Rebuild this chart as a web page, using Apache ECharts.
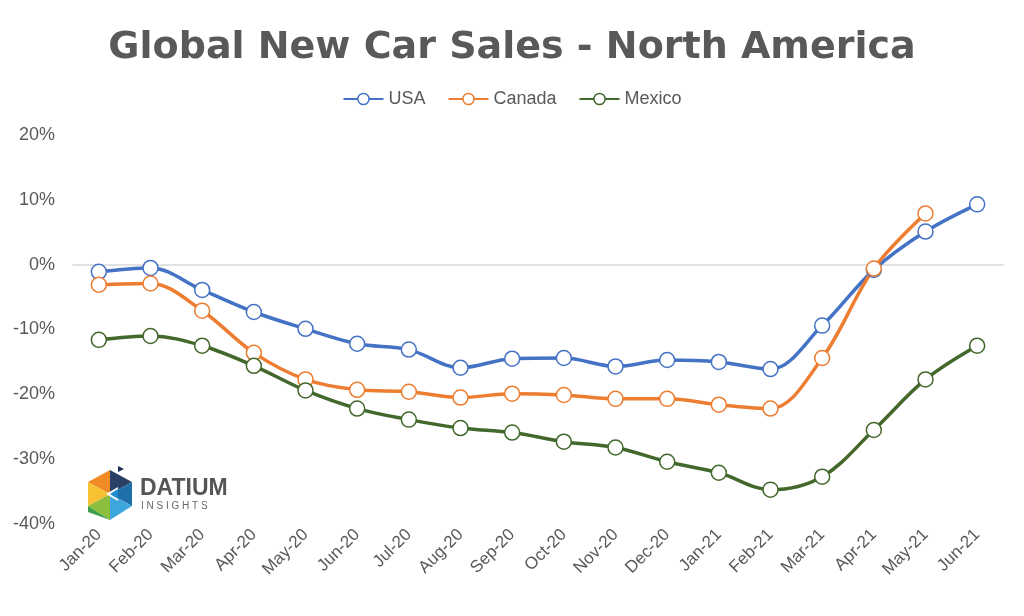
<!DOCTYPE html>
<html>
<head>
<meta charset="utf-8">
<script src="https://cdn.jsdelivr.net/npm/echarts@6/dist/echarts.min.js"></script>
<style>html,body{margin:0;padding:0;background:#fff}#c{width:1024px;height:616px}</style>
</head>
<body>
<div id="c"></div>
<script>
const categories = ['Jan-20','Feb-20','Mar-20','Apr-20','May-20','Jun-20','Jul-20','Aug-20','Sep-20','Oct-20','Nov-20','Dec-20','Jan-21','Feb-21','Mar-21','Apr-21','May-21','Jun-21'];
const usa =    [-1.1, -0.5, -3.9, -7.3, -9.9, -12.2, -13.1, -15.9, -14.5, -14.4, -15.7, -14.7, -15.0, -16.1, -9.4, -0.8, 5.1, 9.3];
const canada = [-3.1, -2.9, -7.1, -13.6, -17.7, -19.3, -19.6, -20.5, -19.9, -20.1, -20.7, -20.7, -21.6, -22.2, -14.4, -0.6, 7.9, null];
const mexico = [-11.6, -11.0, -12.5, -15.6, -19.4, -22.2, -23.9, -25.2, -25.9, -27.3, -28.2, -30.4, -32.1, -34.7, -32.7, -25.5, -17.7, -12.5];
const yTicks = {min: -40, max: 20, interval: 10};

const font = '"Liberation Sans", "DejaVu Sans", sans-serif';
const textColor = '#595959';
function mk(name, data, color) {
  return {
    name, type: 'line', data, smooth: 0.35, connectNulls: false,
    symbol: 'circle', symbolSize: 15,
    lineStyle: {color, width: 3.5},
    itemStyle: {color: '#fff', borderColor: color, borderWidth: 1.5},
    emphasis: {disabled: true}
  };
}
const chart = echarts.init(document.getElementById('c'));
chart.setOption({
  animation: false,
  backgroundColor: '#fff',
  color: ['#4472C4', '#ED7D31', '#43682B'],
  title: {
    text: 'Global New Car Sales - North America',
    left: 'center', top: 24,
    textStyle: {fontFamily: '"DejaVu Sans", sans-serif', fontSize: 38, fontWeight: 'bold', color: textColor}
  },
  legend: {
    top: 85, left: 'center', itemWidth: 40, itemHeight: 14, itemGap: 22,
    textStyle: {fontFamily: font, fontSize: 18, color: textColor},
    data: [
      {name: 'USA', itemStyle: {color: '#fff', borderColor: '#4472C4', borderWidth: 1.5}},
      {name: 'Canada', itemStyle: {color: '#fff', borderColor: '#ED7D31', borderWidth: 1.5}},
      {name: 'Mexico', itemStyle: {color: '#fff', borderColor: '#43682B', borderWidth: 1.5}}
    ]
  },
  grid: {left: 73, right: 21, top: 135, bottom: 92, containLabel: false},
  xAxis: {
    type: 'category', data: categories, boundaryGap: true,
    axisLine: {onZero: true, lineStyle: {color: '#d9d9d9', width: 1.5}},
    axisTick: {show: false},
    axisLabel: {
      interval: 0, rotate: 45, margin: 8,
      fontFamily: font, fontSize: 17, color: textColor
    },
    position: 'bottom'
  },
  yAxis: {
    type: 'value', min: yTicks.min, max: yTicks.max, interval: yTicks.interval,
    axisLine: {show: false}, axisTick: {show: false},
    splitLine: {show: false},
    axisLabel: {
      fontFamily: font, fontSize: 18, color: textColor, margin: 18,
      formatter: v => v + '%'
    }
  },
  series: [mk('USA', usa, '#4472C4'), mk('Canada', canada, '#ED7D31'), mk('Mexico', mexico, '#43682B')],
  graphic: [
    {type: 'group', left: 88, top: 466, children: [
      {type: 'polygon', shape: {points: [[22,4],[44,16],[22,28]]}, style: {fill: '#2A3F66'}},
      {type: 'polygon', shape: {points: [[0,16],[22,4],[22,28]]}, style: {fill: '#F08A24'}},
      {type: 'polygon', shape: {points: [[0,16],[22,28],[0,40]]}, style: {fill: '#F6C234'}},
      {type: 'polygon', shape: {points: [[0,40],[22,28],[22,54]]}, style: {fill: '#8DBE3E'}},
      {type: 'polygon', shape: {points: [[0,40],[22,54],[0,46]]}, style: {fill: '#3A9E4B'}},
      {type: 'polygon', shape: {points: [[22,28],[44,16],[44,40]]}, style: {fill: '#1F6FA8'}},
      {type: 'polygon', shape: {points: [[22,28],[44,40],[22,54]]}, style: {fill: '#3DA6DA'}},
      {type: 'polygon', shape: {points: [[18,28],[30,21],[30,35]]}, style: {fill: '#fff'}},
      {type: 'polygon', shape: {points: [[22,28],[30,23],[30,33]]}, style: {fill: '#1F8BD0'}},
      {type: 'polygon', shape: {points: [[30,0],[36,3],[30,6]]}, style: {fill: '#1B2F55'}},
      {type: 'text', x: 52, y: 11, style: {text: 'DATIUM', fontFamily: font, fontSize: 23, fontWeight: 'bold', fill: '#555'}},
      {type: 'text', x: 53, y: 35, style: {text: 'I N S I G H T S', fontFamily: font, fontSize: 10, fill: '#666'}}
    ]}
  ]
});
</script>
</body>
</html>
